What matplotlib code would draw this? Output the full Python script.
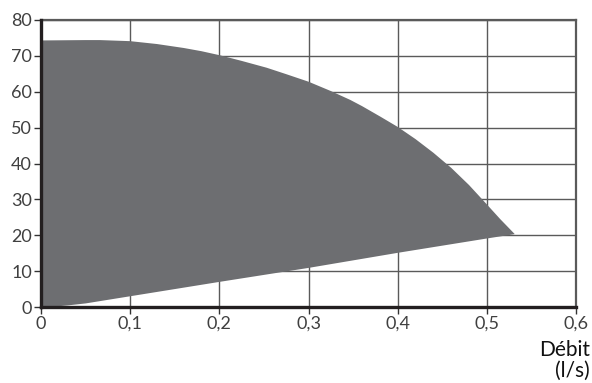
import matplotlib
matplotlib.use("Agg")
import matplotlib.pyplot as plt
import numpy as np

# Upper boundary (max head) and lower boundary (min head) of the operating area
upper_x = [0.0, 0.05, 0.066, 0.10, 0.13, 0.16, 0.18, 0.20, 0.225, 0.253, 0.275, 0.30, 0.325, 0.347,
           0.36, 0.381, 0.40, 0.42, 0.44, 0.46, 0.48, 0.50, 0.515, 0.531]
upper_y = [74.3, 74.4, 74.4, 74.1, 73.3, 72.2, 71.3, 70.2, 68.6, 66.7, 64.9, 62.8, 60.2, 57.7,
           56.0, 53.0, 50.2, 46.8, 43.0, 38.8, 34.0, 28.6, 24.5, 20.4]
lower_x = [0.0, 0.015, 0.03, 0.05, 0.10, 0.20, 0.30, 0.40, 0.50, 0.531]
lower_y = [0.0, 0.12, 0.45, 1.0, 3.0, 7.0, 10.9, 15.1, 19.1, 20.3]

xticks = [0, 0.1, 0.2, 0.3, 0.4, 0.5, 0.6]
xticklabels = ["0", "0,1", "0,2", "0,3", "0,4", "0,5", "0,6"]
yticks = [0, 10, 20, 30, 40, 50, 60, 70, 80]
xlabel = "Débit\n(l/s)"

plt.rcParams['font.family'] = ['Lato', 'DejaVu Sans']

fig = plt.figure(figsize=(5.92, 3.83), dpi=100)
ax = fig.add_axes([0.0693, 0.1984, 0.9037, 0.7494])

poly_x = list(upper_x) + list(lower_x[::-1])
poly_y = list(upper_y) + list(lower_y[::-1])
ax.fill(poly_x, poly_y, color="#6d6e71", lw=0, zorder=2, antialiased=True)

ax.set_xlim(0, 0.6)
ax.set_ylim(0, 80)
ax.set_xticks(xticks)
ax.set_xticklabels(xticklabels)
ax.set_yticks(yticks)
ax.grid(True, color="#5a5a5a", lw=1.0, zorder=1)
ax.set_axisbelow(True)

for s in ["top", "right"]:
    ax.spines[s].set_color("#5a5a5a")
    ax.spines[s].set_linewidth(1.6)
for s in ["left", "bottom"]:
    ax.spines[s].set_color("#231f20")
    ax.spines[s].set_linewidth(2.4)
    ax.spines[s].set_zorder(3)

ax.tick_params(axis="both", direction="out", length=5, width=1.0, color="#333333",
               labelsize=13, labelcolor="#404040", pad=1.5)

fig.text(0.997, 0.005, xlabel, ha="right", va="bottom", fontsize=15, color="#111111",
         linespacing=1.05, multialignment="right")

fig.savefig("out.png", dpi=100)
